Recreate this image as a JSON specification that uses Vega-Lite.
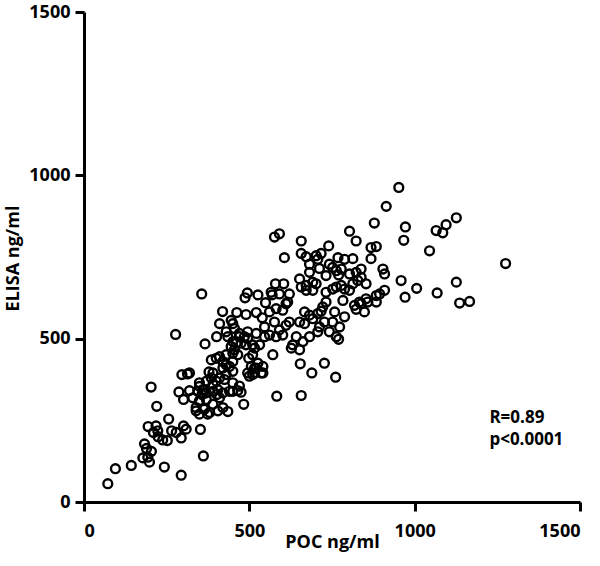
{
  "$schema": "https://vega.github.io/schema/vega-lite/v6.json",
  "autosize": "none",
  "width": 496,
  "height": 490,
  "padding": {"left": 84, "top": 12, "right": 20, "bottom": 64},
  "background": "white",
  "config": {
    "view": {"stroke": null},
    "font": "Open Sans",
    "axis": {
      "grid": false,
      "domainColor": "black",
      "domainWidth": 3,
      "tickColor": "black",
      "tickWidth": 3,
      "tickSize": 9,
      "format": "d",
      "labelFont": "Open Sans",
      "labelFontSize": 18,
      "labelFontWeight": "bold",
      "labelColor": "black",
      "titleFont": "Open Sans",
      "titleFontSize": 18,
      "titleFontWeight": "bold",
      "titleColor": "black"
    }
  },
  "datasets": {
    "pts": [
      {"poc":72,"elisa":56},{"poc":95,"elisa":102},{"poc":143,"elisa":112},{"poc":183,"elisa":178},{"poc":189,"elisa":164},{"poc":193,"elisa":137},{"poc":198,"elisa":122},{"poc":178,"elisa":135},{"poc":204,"elisa":155},{"poc":243,"elisa":107},{"poc":294,"elisa":82},{"poc":361,"elisa":141},{"poc":352,"elisa":222},{"poc":203,"elisa":352},{"poc":220,"elisa":293},{"poc":194,"elisa":231},{"poc":218,"elisa":233},{"poc":256,"elisa":254},{"poc":210,"elisa":213},{"poc":224,"elisa":200},{"poc":238,"elisa":190},{"poc":252,"elisa":188},{"poc":265,"elisa":218},{"poc":279,"elisa":213},{"poc":294,"elisa":196},{"poc":301,"elisa":233},{"poc":223,"elisa":218},{"poc":309,"elisa":223},{"poc":287,"elisa":337},{"poc":301,"elisa":314},{"poc":319,"elisa":341},{"poc":296,"elisa":390},{"poc":313,"elisa":392},{"poc":349,"elisa":354},{"poc":359,"elisa":344},{"poc":357,"elisa":329},{"poc":370,"elisa":334},{"poc":390,"elisa":339},{"poc":402,"elisa":329},{"poc":410,"elisa":319},{"poc":339,"elisa":279},{"poc":349,"elisa":269},{"poc":361,"elisa":287},{"poc":374,"elisa":269},{"poc":420,"elisa":289},{"poc":435,"elisa":277},{"poc":483,"elisa":299},{"poc":450,"elisa":339},{"poc":465,"elisa":341},{"poc":475,"elisa":336},{"poc":385,"elisa":380},{"poc":400,"elisa":370},{"poc":390,"elisa":395},{"poc":425,"elisa":375},{"poc":430,"elisa":390},{"poc":450,"elisa":400},{"poc":385,"elisa":435},{"poc":400,"elisa":440},{"poc":410,"elisa":445},{"poc":420,"elisa":430},{"poc":430,"elisa":420},{"poc":440,"elisa":415},{"poc":450,"elisa":430},{"poc":498,"elisa":440},{"poc":506,"elisa":415},{"poc":495,"elisa":395},{"poc":510,"elisa":390},{"poc":521,"elisa":410},{"poc":435,"elisa":506},{"poc":450,"elisa":491},{"poc":445,"elisa":476},{"poc":455,"elisa":466},{"poc":475,"elisa":486},{"poc":485,"elisa":506},{"poc":490,"elisa":481},{"poc":277,"elisa":513},{"poc":366,"elisa":484},{"poc":401,"elisa":506},
      {"poc":356,"elisa":637},{"poc":494,"elisa":640},{"poc":487,"elisa":625},{"poc":526,"elisa":634},{"poc":419,"elisa":583},{"poc":462,"elisa":580},{"poc":490,"elisa":574},{"poc":521,"elisa":580},{"poc":410,"elisa":546},{"poc":450,"elisa":546},{"poc":455,"elisa":531},{"poc":430,"elisa":521},{"poc":470,"elisa":516},{"poc":495,"elisa":521},{"poc":521,"elisa":516},{"poc":539,"elisa":564},{"poc":561,"elisa":582},{"poc":581,"elisa":592},{"poc":549,"elisa":610},{"poc":569,"elisa":634},{"poc":591,"elisa":637},{"poc":579,"elisa":668},{"poc":604,"elisa":668},{"poc":611,"elisa":607},{"poc":606,"elisa":748},{"poc":445,"elisa":556},{"poc":460,"elisa":486},{"poc":510,"elisa":481},
      {"poc":878,"elisa":854},{"poc":803,"elisa":829},{"poc":823,"elisa":799},{"poc":576,"elisa":811},{"poc":591,"elisa":821},{"poc":657,"elisa":799},{"poc":868,"elisa":779},{"poc":884,"elisa":782},{"poc":868,"elisa":745},{"poc":740,"elisa":784},{"poc":657,"elisa":761},{"poc":672,"elisa":751},{"poc":702,"elisa":754},{"poc":717,"elisa":761},{"poc":768,"elisa":748},{"poc":788,"elisa":743},{"poc":813,"elisa":745},{"poc":682,"elisa":728},{"poc":712,"elisa":715},{"poc":742,"elisa":728},{"poc":752,"elisa":718},{"poc":778,"elisa":713},{"poc":770,"elisa":695},{"poc":803,"elisa":698},{"poc":823,"elisa":703},{"poc":838,"elisa":713},{"poc":682,"elisa":703},{"poc":904,"elisa":713},{"poc":909,"elisa":698},{"poc":732,"elisa":693},{"poc":652,"elisa":683},{"poc":692,"elisa":673},{"poc":657,"elisa":658},{"poc":672,"elisa":648},{"poc":692,"elisa":648},{"poc":732,"elisa":642},{"poc":752,"elisa":652},{"poc":763,"elisa":658},{"poc":778,"elisa":663},{"poc":788,"elisa":652},{"poc":803,"elisa":648},{"poc":813,"elisa":668},{"poc":828,"elisa":678},{"poc":838,"elisa":688},{"poc":853,"elisa":668},{"poc":621,"elisa":637},{"poc":616,"elisa":612},{"poc":732,"elisa":612},{"poc":722,"elisa":597},{"poc":783,"elisa":617},{"poc":818,"elisa":602},{"poc":838,"elisa":607},{"poc":858,"elisa":612},{"poc":894,"elisa":637},{"poc":909,"elisa":648},{"poc":884,"elisa":612},{"poc":848,"elisa":582},{"poc":667,"elisa":582},{"poc":682,"elisa":572},{"poc":692,"elisa":561},{"poc":707,"elisa":577},{"poc":717,"elisa":584},{"poc":601,"elisa":587},{"poc":652,"elisa":551},{"poc":667,"elisa":546},{"poc":727,"elisa":551},{"poc":752,"elisa":551},{"poc":611,"elisa":541},
      {"poc":952,"elisa":963},{"poc":914,"elisa":905},{"poc":972,"elisa":842},{"poc":967,"elisa":801},{"poc":1065,"elisa":831},{"poc":1085,"elisa":824},{"poc":1095,"elisa":849},{"poc":1045,"elisa":769},{"poc":959,"elisa":678},{"poc":1006,"elisa":654},{"poc":1068,"elisa":640},{"poc":971,"elisa":627},{"poc":884,"elisa":632},{"poc":853,"elisa":622},{"poc":833,"elisa":612},{"poc":823,"elisa":590},{"poc":566,"elisa":642},{"poc":672,"elisa":663},{"poc":702,"elisa":668},{"poc":707,"elisa":743},{"poc":763,"elisa":708},
      {"poc":1126,"elisa":870},{"poc":1275,"elisa":730},{"poc":1126,"elisa":673},{"poc":1136,"elisa":609},{"poc":1166,"elisa":614},
      {"poc":763,"elisa":506},{"poc":770,"elisa":498},{"poc":707,"elisa":521},{"poc":727,"elisa":425},{"poc":761,"elisa":382},{"poc":654,"elisa":423},{"poc":689,"elisa":395},{"poc":657,"elisa":326},{"poc":583,"elisa":324},{"poc":571,"elisa":451},{"poc":627,"elisa":471},{"poc":652,"elisa":466},{"poc":631,"elisa":481},{"poc":662,"elisa":491},{"poc":682,"elisa":506},{"poc":531,"elisa":481},{"poc":516,"elisa":471},{"poc":510,"elisa":451},{"poc":526,"elisa":425},{"poc":516,"elisa":410},{"poc":541,"elisa":395},{"poc":500,"elisa":385},{"poc":561,"elisa":511},{"poc":581,"elisa":506},{"poc":601,"elisa":511},{"poc":642,"elisa":506},
      {"poc":621,"elisa":551},{"poc":546,"elisa":536},{"poc":576,"elisa":551},{"poc":591,"elisa":527},{"poc":712,"elisa":536},{"poc":742,"elisa":521},{"poc":773,"elisa":536},{"poc":788,"elisa":567},{"poc":758,"elisa":582},
      {"poc":470,"elisa":506},{"poc":495,"elisa":501},{"poc":546,"elisa":506},{"poc":430,"elisa":451},{"poc":450,"elisa":455},{"poc":465,"elisa":451},{"poc":516,"elisa":395},{"poc":536,"elisa":395},{"poc":541,"elisa":415},{"poc":420,"elisa":410},{"poc":378,"elisa":398},{"poc":410,"elisa":380},{"poc":450,"elisa":365},{"poc":470,"elisa":355},{"poc":319,"elisa":395},{"poc":349,"elisa":365},{"poc":370,"elisa":370},{"poc":390,"elisa":360},{"poc":364,"elisa":344},{"poc":344,"elisa":339},{"poc":405,"elisa":344},{"poc":420,"elisa":334},{"poc":440,"elisa":339},{"poc":329,"elisa":319},{"poc":349,"elisa":309},{"poc":370,"elisa":314},{"poc":390,"elisa":299},{"poc":339,"elisa":289},{"poc":364,"elisa":284},{"poc":380,"elisa":274},{"poc":405,"elisa":279}
    ],
    "ann": [
      {"poc": 1226, "elisa": 242, "label": "R=0.89"},
      {"poc": 1226, "elisa": 173, "label": "p<0.0001"}
    ]
  },
  "layer": [
    {
      "data": {"name": "pts"},
      "mark": {"type": "point", "shape": "circle", "filled": false, "stroke": "black", "strokeWidth": 2.4, "size": 78, "opacity": 1},
      "encoding": {
        "x": {
          "field": "poc", "type": "quantitative",
          "scale": {"domain": [0, 1500], "nice": false},
          "axis": {"values": [0, 500, 1000, 1500], "title": "POC ng/ml", "labelBaseline": "alphabetic", "labelPadding": 25, "titleBaseline": "alphabetic", "titleY": 45}
        },
        "y": {
          "field": "elisa", "type": "quantitative",
          "scale": {"domain": [0, 1500], "nice": false},
          "axis": {"values": [0, 500, 1000, 1500], "title": "ELISA ng/ml", "labelPadding": 5, "titleBaseline": "alphabetic", "titleX": -66, "titleY": 246, "titleAngle": 270, "titleAlign": "center"}
        }
      }
    },
    {
      "data": {"name": "ann"},
      "mark": {"type": "text", "align": "left", "baseline": "alphabetic", "font": "Open Sans", "fontSize": 17, "fontWeight": "bold", "color": "black"},
      "encoding": {
        "x": {"field": "poc", "type": "quantitative"},
        "y": {"field": "elisa", "type": "quantitative"},
        "text": {"field": "label"}
      }
    }
  ]
}
